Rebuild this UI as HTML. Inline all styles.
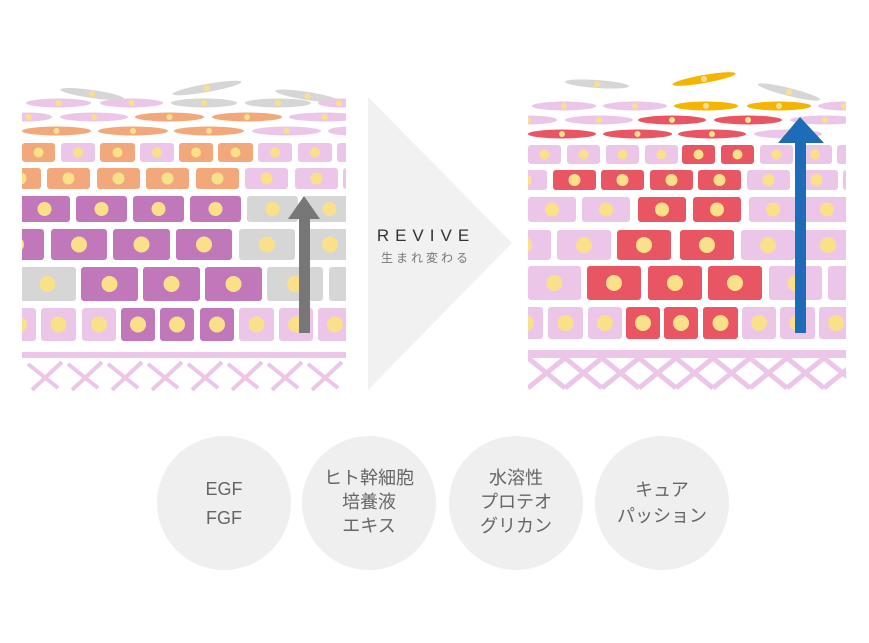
<!DOCTYPE html>
<html><head><meta charset="utf-8"><style>
html,body{margin:0;padding:0;background:#fff;}
svg{display:block;}
text{font-family:"Liberation Sans","Noto Sans CJK JP",sans-serif;}
</style></head><body>
<svg id="s" width="869" height="643" viewBox="0 0 869 643" xmlns="http://www.w3.org/2000/svg">
<defs>
<clipPath id="cl"><rect x="22" y="60" width="324" height="340"/></clipPath>
<clipPath id="cr"><rect x="528" y="60" width="318" height="340"/></clipPath>
</defs>
<polygon points="368,97 368,390 512,243" fill="#f1f1f1"/>
<text x="426" y="241" font-size="17" fill="#333" text-anchor="middle" letter-spacing="6">REVIVE</text>
<text x="426" y="262" font-size="12" fill="#777" text-anchor="middle" letter-spacing="3">生まれ変わる</text>
<g id="L" clip-path="url(#cl)"></g>
<g id="R" clip-path="url(#cr)"></g>
<g fill="#efefef">
<circle cx="224" cy="503" r="67"/><circle cx="369" cy="503" r="67"/><circle cx="516" cy="503" r="67"/><circle cx="662" cy="503" r="67"/>
</g>
<g font-size="18" fill="#666" text-anchor="middle">
<text x="224" y="495">EGF</text><text x="224" y="524">FGF</text>
<text x="369" y="484">ヒト幹細胞</text><text x="369" y="508">培養液</text><text x="369" y="532">エキス</text>
<text x="516" y="484">水溶性</text><text x="516" y="508">プロテオ</text><text x="516" y="532">グリカン</text>
<text x="662" y="496">キュア</text><text x="662" y="522">パッション</text>
</g>
</svg>
<script>
var NS="http://www.w3.org/2000/svg";
function el(p,t,a){var e=document.createElementNS(NS,t);for(var k in a)e.setAttribute(k,a[k]);p.appendChild(e);return e;}
var C={p:"#ecc6e8",o:"#f2a87a",u:"#c078bb",g:"#d6d6d6",r:"#e85563",y:"#f5b400"};
var NUC="#fbe08a";
function rows(g,rs){rs.forEach(function(r){var y0=r[0],h=r[1],nr=r[2];r[3].forEach(function(c){var x0=c[0],x1=c[1];
el(g,"rect",{x:x0,y:y0,width:x1-x0,height:h,rx:3,fill:C[c[2]]});
el(g,"circle",{cx:(x0+x1)/2,cy:y0+h/2,r:nr,fill:NUC});});});}
function ells(g,es){es.forEach(function(e){var cx=(e[0]+e[1])/2,rx=(e[1]-e[0])/2;
var gg=el(g,"g",{transform:"rotate("+(e[4]||0)+" "+cx+" "+e[2]+")"});
el(gg,"ellipse",{cx:cx,cy:e[2],rx:rx,ry:e[5]||4.5,fill:C[e[3]]});
el(gg,"circle",{cx:cx,cy:e[2],r:3,fill:NUC});});}
var L=document.getElementById("L"),R=document.getElementById("R");
// LEFT
ells(L,[[60,124,94,"g",8,4],[172,242,88,"g",-10,4],[275,340,96,"g",9,4],
[26,91,103,"p"],[100,163,103,"p"],[171,237,103,"g"],[245,311,103,"g"],[318,360,103,"p"],
[5,52,117,"p"],[60,128,117,"p"],[135,204,117,"o"],[212,282,117,"o"],[289,360,117,"p"],
[22,91,131,"o"],[98,168,131,"o"],[174,244,131,"o"],[252,321,131,"p"],[328,370,131,"p"]]);
rows(L,[
[143,19,5,[[22,55,"o"],[61,95,"p"],[100,135,"o"],[140,174,"p"],[179,213,"o"],[218,253,"o"],[258,292,"p"],[298,332,"p"],[337,371,"p"]]],
[168,21,6,[[0,41,"o"],[47,90,"o"],[97,140,"o"],[146,189,"o"],[196,239,"o"],[245,288,"p"],[295,338,"p"],[343,386,"p"]]],
[196,26,7,[[19,70,"u"],[76,127,"u"],[133,184,"u"],[190,241,"u"],[247,298,"g"],[304,355,"g"]]],
[229,31,8,[[-12,44,"u"],[51,107,"u"],[113,170,"u"],[176,232,"u"],[239,295,"g"],[302,358,"g"]]],
[267,34,8,[[19,76,"g"],[81,138,"u"],[143,200,"u"],[205,262,"u"],[267,323,"g"],[329,386,"g"]]],
[308,33,8,[[2,36,"p"],[41,76,"p"],[82,116,"p"],[121,155,"u"],[160,194,"u"],[200,234,"u"],[239,274,"p"],[279,313,"p"],[318,352,"p"]]]]);
el(L,"rect",{x:22,y:352,width:324,height:6,fill:"#ecc6e8"});
for(var i=0;i<8;i++){var x=28+i*40;
el(L,"line",{x1:x,y1:364,x2:x+30,y2:388,stroke:"#ecc6e8","stroke-width":4});
el(L,"line",{x1:x+34,y1:362,x2:x+4,y2:390,stroke:"#ecc6e8","stroke-width":4});}
el(L,"rect",{x:299,y:216,width:11,height:117,fill:"#777"});
el(L,"polygon",{points:"304,196 288,219 320,219",fill:"#777"});
// RIGHT
ells(R,[[565,629,84,"g",4,4],[672,736,79,"y",-10,4],[757,821,92,"g",14,4],
[532,596,106,"p"],[603,667,106,"p"],[674,738,106,"y"],[747,811,106,"y"],[818,870,106,"p"],
[500,557,120,"p"],[565,633,120,"p"],[638,706,120,"r"],[714,782,120,"r"],[790,860,120,"p"],
[528,596,134,"r"],[603,672,134,"r"],[678,746,134,"r"],[754,822,134,"p"]]);
rows(R,[
[145,19,5,[[528,561,"p"],[567,600,"p"],[606,639,"p"],[645,678,"p"],[682,715,"r"],[721,754,"r"],[760,793,"p"],[798,832,"p"],[837,870,"p"]]],
[170,20,6,[[504,547,"p"],[553,596,"r"],[601,644,"r"],[650,693,"r"],[698,741,"r"],[747,790,"p"],[795,838,"p"],[843,886,"p"]]],
[197,25,7,[[528,576,"p"],[582,630,"p"],[638,686,"r"],[693,741,"r"],[749,797,"p"],[803,851,"p"]]],
[230,30,8,[[497,551,"p"],[557,611,"p"],[617,671,"r"],[680,734,"r"],[741,795,"p"],[801,855,"p"]]],
[266,34,8,[[528,581,"p"],[587,641,"r"],[648,702,"r"],[708,762,"r"],[769,822,"p"],[828,882,"p"]]],
[307,32,8,[[509,543,"p"],[548,583,"p"],[588,622,"p"],[626,660,"r"],[664,698,"r"],[703,738,"r"],[742,776,"p"],[780,815,"p"],[819,853,"p"]]]]);
el(R,"rect",{x:528,y:350,width:318,height:8,fill:"#ecc6e8"});
for(var i=-1;i<10;i++){var x=528+i*37;
el(R,"line",{x1:x,y1:358,x2:x+37,y2:388,stroke:"#ecc6e8","stroke-width":5});
el(R,"line",{x1:x+37,y1:358,x2:x,y2:388,stroke:"#ecc6e8","stroke-width":5});}
el(R,"rect",{x:795,y:140,width:11,height:193,fill:"#1e6bb8"});
el(R,"polygon",{points:"800,117 778,143 824,143",fill:"#1e6bb8"});
</script>
</body></html>
